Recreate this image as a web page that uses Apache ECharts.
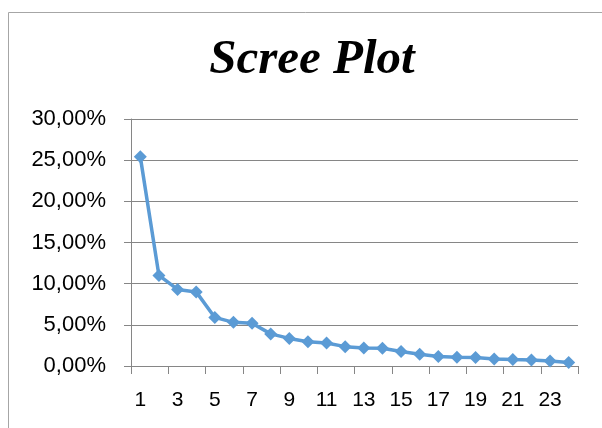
<!DOCTYPE html>
<html><head><meta charset="utf-8">
<script src="https://cdn.jsdelivr.net/npm/echarts@6/dist/echarts.min.js"></script>
<style>html,body{margin:0;padding:0;background:#fff}#c{width:602px;height:428px}</style>
</head><body><div id="c"></div>
<script>
const categories = ['1','2','3','4','5','6','7','8','9','10','11','12','13','14','15','16','17','18','19','20','21','22','23','24'];
const values = [25.4, 11.0, 9.3, 9.0, 5.9, 5.3, 5.2, 3.9, 3.35, 2.95, 2.8, 2.35, 2.2, 2.15, 1.75, 1.42, 1.15, 1.07, 1.02, 0.86, 0.78, 0.72, 0.6, 0.42];
const yTicks = {min: 0, max: 30, interval: 5};
const chart = echarts.init(document.getElementById('c'));
chart.setOption({
  animation: false,
  title: {text: 'Scree Plot', left: 307, textAlign: 'center', top: 31,
    textStyle: {fontFamily: 'Liberation Serif', fontStyle: 'italic', fontWeight: 'bold', fontSize: 49, color: '#000'}},
  graphic: [{type: 'rect', shape: {x: 8.5, y: 12.5, width: 800, height: 600}, style: {fill: 'none', stroke: '#a6a6a6', lineWidth: 1}}],
  grid: {left: 131, right: 24, top: 119, bottom: 62},
  xAxis: {type: 'category', data: categories, boundaryGap: true,
    axisLine: {lineStyle: {color: '#868686'}},
    axisTick: {show: true, length: 8, lineStyle: {color: '#868686'}},
    axisLabel: {interval: 1, color: '#000', fontFamily: 'Liberation Sans', fontSize: 21, margin: 24}},
  yAxis: {type: 'value', min: yTicks.min, max: yTicks.max, interval: yTicks.interval,
    axisLine: {show: true, lineStyle: {color: '#868686'}},
    axisTick: {show: true, length: 7, lineStyle: {color: '#868686'}},
    splitLine: {lineStyle: {color: '#868686'}},
    axisLabel: {formatter: v => v.toFixed(2).replace('.', ',') + '%', color: '#000', fontFamily: 'Liberation Sans', fontSize: 22, margin: 25}},
  series: [{type: 'line', data: values, symbol: 'diamond', symbolSize: 13, showAllSymbol: true,
    lineStyle: {color: '#5b9bd5', width: 3.5}, itemStyle: {color: '#5b9bd5'}}]
});
</script></body></html>
